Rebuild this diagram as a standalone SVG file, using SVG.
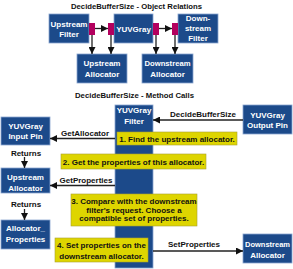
<svg xmlns="http://www.w3.org/2000/svg" width="293" height="269" viewBox="0 0 293 269">
<defs>
<style>
.bx{fill:#1c4a8a;stroke:#8aa6cf;stroke-width:0.8}
.pk{fill:#b3005e}
.yl{fill:#ded500;stroke:#a8a030;stroke-width:0.6}
.t{font-family:"Liberation Sans",Arial,sans-serif;font-weight:bold;font-size:8px;text-anchor:middle}
.w{fill:#ffffff}
.k{fill:#111111}
.ln{stroke:#222222;stroke-width:1.3;fill:none}
</style>
<marker id="ah" viewBox="0 0 8 8" refX="8" refY="4" markerWidth="8" markerHeight="7" markerUnits="userSpaceOnUse" orient="auto">
<path d="M0,0 L8,4 L0,8 Z" fill="#111111"/>
</marker>
</defs>
<rect width="293" height="269" fill="#ffffff"/>

<text class="t k" x="136.5" y="9" textLength="131" lengthAdjust="spacingAndGlyphs">DecideBufferSize - Object Relations</text>
<text class="t k" x="134.5" y="98" textLength="119" lengthAdjust="spacingAndGlyphs">DecideBufferSize - Method Calls</text>

<g id="upstream-filter">
<rect class="bx" x="49" y="14" width="40" height="29"/>
<text class="t w" x="69" y="26.5">Upstream</text>
<text class="t w" x="69" y="37">Filter</text>
</g>
<g id="yuvgray">
<rect class="bx" x="114" y="14" width="39" height="29"/>
<text class="t w" x="133.5" y="31.5">YUVGray</text>
</g>
<g id="downstream-filter">
<rect class="bx" x="178" y="14" width="40" height="29"/>
<text class="t w" x="198" y="21">Down-</text>
<text class="t w" x="198" y="31">stream</text>
<text class="t w" x="198" y="41">Filter</text>
</g>
<g id="pins">
<rect class="pk" x="89" y="23" width="6" height="12"/>
<rect class="pk" x="108" y="23" width="6" height="12"/>
<rect class="pk" x="153" y="23" width="6" height="12"/>
<rect class="pk" x="172" y="23" width="6" height="12"/>
</g>
<g id="upstream-allocator-top">
<rect class="bx" x="77" y="54" width="50" height="29"/>
<text class="t w" x="102" y="66">Upstream</text>
<text class="t w" x="102" y="77">Allocator</text>
</g>
<g id="downstream-allocator-top">
<rect class="bx" x="142" y="54" width="51" height="29"/>
<text class="t w" x="167.5" y="66" textLength="46" lengthAdjust="spacingAndGlyphs">Downstream</text>
<text class="t w" x="167.5" y="77">Allocator</text>
</g>

<g id="yuvgray-filter-column">
<rect class="bx" x="115" y="105" width="38" height="163"/>
<text class="t w" x="134" y="113">YUVGray</text>
<text class="t w" x="134" y="123.5">Filter</text>
</g>
<g id="output-pin">
<rect class="bx" x="243" y="105" width="49" height="29"/>
<text class="t w" x="267.5" y="118">YUVGray</text>
<text class="t w" x="267.5" y="128">Output Pin</text>
</g>
<g id="input-pin">
<rect class="bx" x="1" y="117" width="49" height="28"/>
<text class="t w" x="25.5" y="129">YUVGray</text>
<text class="t w" x="25.5" y="139">Input Pin</text>
</g>
<g id="upstream-allocator">
<rect class="bx" x="1" y="168" width="49" height="25"/>
<text class="t w" x="25.5" y="180">Upstream</text>
<text class="t w" x="25.5" y="190.5">Allocator</text>
</g>
<g id="allocator-properties">
<rect class="bx" x="1" y="220" width="49" height="29"/>
<text class="t w" x="25.5" y="231">Allocator_</text>
<text class="t w" x="25.5" y="241.5">Properties</text>
</g>
<g id="downstream-allocator">
<rect class="bx" x="243" y="234" width="49" height="29"/>
<text class="t w" x="267.5" y="247" textLength="45" lengthAdjust="spacingAndGlyphs">Downstream</text>
<text class="t w" x="267.5" y="257.5">Allocator</text>
</g>

<g id="connectors">
<line class="ln" x1="95" y1="28.5" x2="108" y2="28.5" marker-end="url(#ah)"/>
<line class="ln" x1="159" y1="28.5" x2="172" y2="28.5" marker-end="url(#ah)"/>
<line class="ln" x1="92" y1="35" x2="92" y2="54" marker-end="url(#ah)"/>
<line class="ln" x1="111" y1="35" x2="111" y2="54" marker-end="url(#ah)"/>
<line class="ln" x1="156" y1="35" x2="156" y2="54" marker-end="url(#ah)"/>
<line class="ln" x1="175" y1="35" x2="175" y2="54" marker-end="url(#ah)"/>

<line class="ln" x1="243" y1="120" x2="153" y2="120" marker-end="url(#ah)"/>
<text class="t k" x="203" y="117">DecideBufferSize</text>
<line class="ln" x1="115" y1="138.5" x2="50" y2="138.5" marker-end="url(#ah)"/>
<text class="t k" x="85" y="136">GetAllocator</text>
<line class="ln" x1="24.5" y1="157" x2="24.5" y2="168" marker-end="url(#ah)"/>
<text class="t k" x="26" y="155.5">Returns</text>
<line class="ln" x1="115" y1="185.5" x2="50" y2="185.5" marker-end="url(#ah)"/>
<text class="t k" x="86" y="182.5">GetProperties</text>
<line class="ln" x1="24.5" y1="209" x2="24.5" y2="220" marker-end="url(#ah)"/>
<text class="t k" x="26" y="207">Returns</text>
<line class="ln" x1="153" y1="251" x2="243" y2="251" marker-end="url(#ah)"/>
<text class="t k" x="194" y="247">SetProperties</text>
</g>

<g id="step1">
<rect class="yl" x="117" y="132" width="120" height="13"/>
<text class="t k" x="177" y="141.5">1. Find the upstream allocator.</text>
</g>
<g id="step2">
<rect class="yl" x="61" y="154" width="145" height="15"/>
<text class="t k" x="133.5" y="164.5">2. Get the properties of this allocator.</text>
</g>
<g id="step3">
<rect class="yl" x="71" y="194" width="126" height="32"/>
<text class="t k" x="134" y="204">3. Compare with the downstream</text>
<text class="t k" x="134" y="212.5">filter's request. Choose a</text>
<text class="t k" x="134" y="221">compatible set of properties.</text>
</g>
<g id="step4">
<rect class="yl" x="55" y="238" width="93" height="24"/>
<text class="t k" x="101.5" y="248">4. Set properties on the</text>
<text class="t k" x="101.5" y="258.5">downstream allocator.</text>
</g>
</svg>
